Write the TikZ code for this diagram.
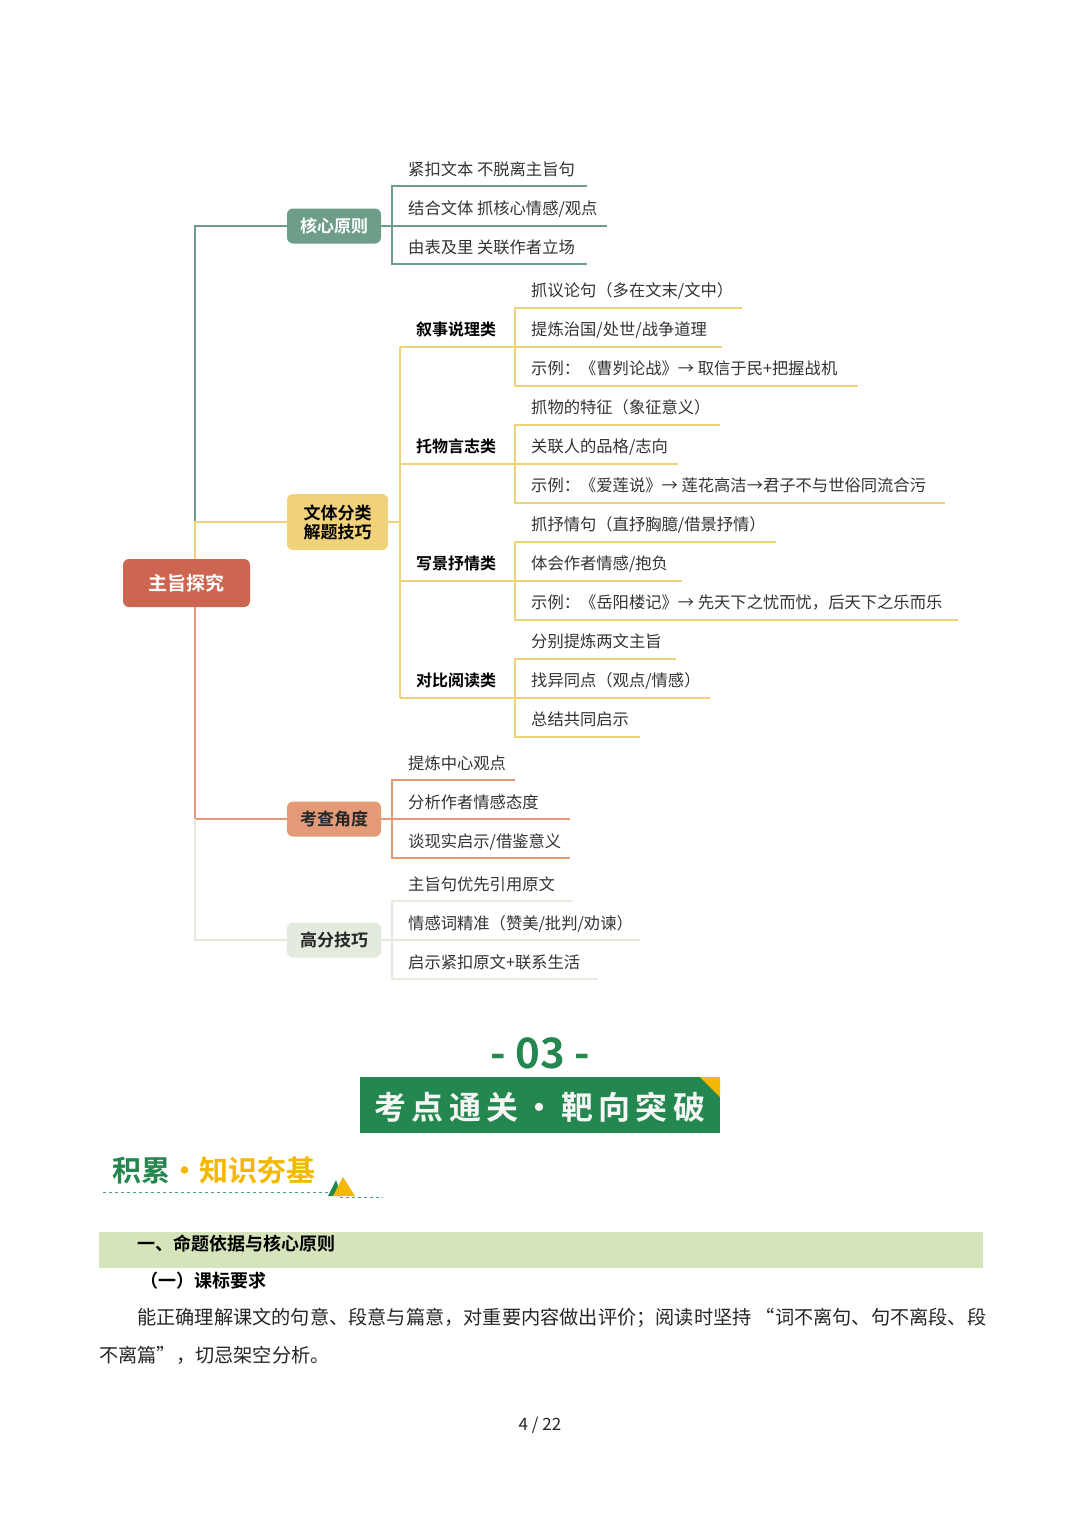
\documentclass[tikz,border=0pt]{standalone}
\usepackage{fontspec}
\setmainfont{Noto Sans CJK SC}
\newfontfamily\cjkb{Noto Sans CJK SC Bold}
\begin{document}
\begin{tikzpicture}[x=1pt,y=-1pt,
  leaf/.style={anchor=base west,font=\fontsize{16.3}{16}\selectfont,text=black!80,inner sep=0},
  cat/.style={anchor=base,font=\cjkb\fontsize{16}{16}\selectfont,inner sep=0},
  box/.style={rounded corners=6pt,font=\cjkb\fontsize{17}{19}\selectfont,align=center,inner sep=0}]
\definecolor{cg}{HTML}{6E9E8A}\definecolor{cy}{HTML}{EFD27A}\definecolor{co}{HTML}{E49A76}
\definecolor{cl}{HTML}{E3EBDE}\definecolor{cr}{HTML}{CD6651}\definecolor{gn}{HTML}{23874F}
\definecolor{ye}{HTML}{F5B800}\definecolor{bar}{HTML}{D6E4BC}
\useasboundingbox[fill=white] (0,0) rectangle (1080,1528);
% trunk
\draw[cg,line width=2pt] (195,560) -- (195,226) -- (287,226);
\draw[cy,line width=2pt] (195,560) -- (195,522) -- (287,522);
\draw[co,line width=2pt] (195,607) -- (195,819) -- (287,819);
\draw[cl,line width=2pt] (195,819) -- (195,940) -- (287,940);
\node[box,fill=cr,text=white,minimum width=127pt,minimum height=48pt,font=\cjkb\fontsize{19}{19}\selectfont] (root) at (186.5,583) {主旨探究};
\node[box,fill=cg,text=white,minimum width=94pt,minimum height=35pt] (b1) at (334,226) {核心原则};
\node[box,fill=cy,text=black,minimum width=101pt,minimum height=56pt] (b2) at (337.5,522) {文体分类\\解题技巧};
\node[box,fill=co,text=black!85,minimum width=94pt,minimum height=35pt] (b3) at (334,819) {考查角度};
\node[box,fill=cl,text=black!85,minimum width=94pt,minimum height=35pt] (b4) at (334,940) {高分技巧};
% 核心原则
\draw[cg,line width=1.3pt] (b1.east) -- (392,226);
\draw[cg,line width=1.3pt] (587,186) -- (392,186) -- (392,264) -- (587,264);
\draw[cg,line width=1.3pt] (392,226) -- (607,226);
\node[leaf] (l11) at (408,175) {紧扣文本 不脱离主旨句};
\node[leaf] (l12) at (408,214) {结合文体 抓核心情感/观点};
\node[leaf] (l13) at (408,253) {由表及里 关联作者立场};
% 文体分类
\draw[cy,line width=1.3pt] (b2.east) -- (400,522);
\draw[cy,line width=1.3pt] (400,347) -- (400,698);
\foreach \y/\t in {347/叙事说理类,464/托物言志类,581/写景抒情类,698/对比阅读类}{
  \draw[cy,line width=1.3pt] (400,\y) -- (515,\y);
  \node[cat] at (456,\y-12) {\t};}
\newcommand\sub[7]{%
  \draw[cy,line width=1.3pt] (#3,#1-39) -- (515,#1-39) -- (515,#1+39) -- (#7,#1+39);
  \draw[cy,line width=1.3pt] (515,#1) -- (#5,#1);
  \node[leaf] at (531,#1-51) {#2};
  \node[leaf] at (531,#1-12) {#4};
  \node[leaf] at (531,#1+27) {#6};}
\sub{347}{抓议论句（多在文末/文中）}{742}{提炼治国/处世/战争道理}{722}{示例：《曹刿论战》→ 取信于民+把握战机}{858}
\sub{464}{抓物的特征（象征意义）}{720}{关联人的品格/志向}{678}{示例：《爱莲说》→ 莲花高洁→君子不与世俗同流合污}{945}
\sub{581}{抓抒情句（直抒胸臆/借景抒情）}{776}{体会作者情感/抱负}{682}{示例：《岳阳楼记》→ 先天下之忧而忧，后天下之乐而乐}{958}
\sub{698}{分别提炼两文主旨}{676}{找异同点（观点/情感）}{710}{总结共同启示}{640}
% 考查角度
\draw[co,line width=1.3pt] (b3.east) -- (392,819) -- (570,819);
\draw[co,line width=1.3pt] (515,780) -- (392,780) -- (392,858) -- (570,858);
\node[leaf] at (408,769) {提炼中心观点};
\node[leaf] at (408,808) {分析作者情感态度};
\node[leaf] at (408,847) {谈现实启示/借鉴意义};
% 高分技巧
\draw[cl,line width=1.3pt] (b4.east) -- (392,940) -- (640,940);
\draw[cl,line width=1.3pt] (572,901) -- (392,901) -- (392,979) -- (598,979);
\node[leaf] at (408,890) {主旨句优先引用原文};
\node[leaf] at (408,929) {情感词精准（赞美/批判/劝谏）};
\node[leaf] at (408,968) {启示紧扣原文+联系生活};
% section header
\node[font=\cjkb\fontsize{42}{42}\selectfont,text=gn] (num) at (540,1053) {- 03 -};
\fill[gn] (360,1077) rectangle (720,1133);
\fill[ye] (700,1077) -- (720,1077) -- (720,1097) -- cycle;
\node[font=\cjkb\fontsize{32}{32}\selectfont,text=white!93!gray] (ban) at (540,1107) {考\,点\,通\,关\,・\,靶\,向\,突\,破};
\node[anchor=west,font=\cjkb\fontsize{29}{29}\selectfont,inner sep=0] (acc) at (112,1170) {\textcolor{gn}{积累}\textcolor{ye}{・知识夯基}};
\draw[gn!80,dashed,line width=1pt] (103,1192) -- (340,1192);
\draw[gn!80,dashed,line width=1pt] (340,1197) -- (383,1197);
\fill[gn] (328,1196) -- (336,1180) -- (342,1196) -- cycle;
\fill[ye] (333,1196) -- (343,1177) -- (355,1196) -- cycle;
% text
\fill[bar] (99,1232) rectangle (983,1268);
\node[anchor=west,font=\cjkb\fontsize{18}{18}\selectfont,inner sep=0] (h1) at (137,1244) {一、命题依据与核心原则};
\node[anchor=west,font=\cjkb\fontsize{18}{18}\selectfont,inner sep=0] (h2) at (140,1281) {（一）课标要求};
\node[anchor=west,font=\fontsize{19.2}{18}\selectfont,inner sep=0,text=black!85] (p1) at (137,1318) {能正确理解课文的句意、段意与篇意，对重要内容做出评价；阅读时坚持 “词不离句、句不离段、段};
\node[anchor=west,font=\fontsize{19.2}{18}\selectfont,inner sep=0,text=black!85] (p2) at (99,1355) {不离篇”，切忌架空分析。};
\node[font=\fontsize{17}{17}\selectfont,text=black!85] (pg) at (540,1425) {4 / 22};
\end{tikzpicture}
\end{document}
